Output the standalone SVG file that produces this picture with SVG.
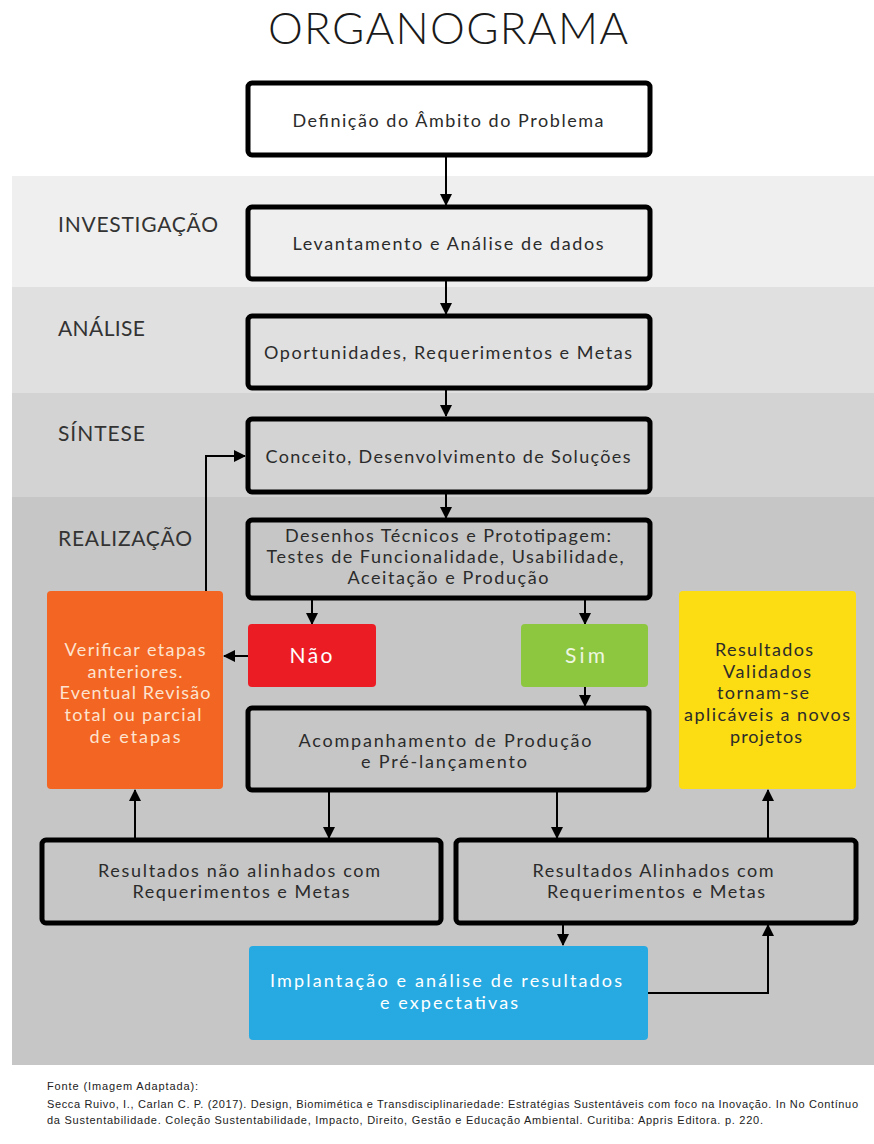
<svg xmlns="http://www.w3.org/2000/svg" width="874" height="1144" viewBox="0 0 874 1144">
<defs>
<style>
text{font-family:"Lato","Liberation Sans",sans-serif;fill:#2b2b2b}
.box{fill:none;stroke:#000;stroke-width:5}
.t{font-size:18px;text-anchor:middle}
.band{font-size:21px;letter-spacing:1px;fill:#333}
.w{fill:#fff}
.c{stroke:#000;stroke-width:2;fill:none}
.foot{font-family:"Liberation Sans",sans-serif;font-size:11px;fill:#222}
</style>
<marker id="ah" markerUnits="userSpaceOnUse" markerWidth="12" markerHeight="12" viewBox="0 0 12 12" refX="11" refY="6" orient="auto">
<path d="M0,0 L12,6 L0,12 z" fill="#000"/>
</marker>
</defs>
<rect width="874" height="1144" fill="#fff"/>
<g id="bands">
<rect x="12" y="176" width="862" height="111" fill="#efefef"/>
<rect x="12" y="287" width="862" height="106" fill="#e0e0e0"/>
<rect x="12" y="393" width="862" height="104" fill="#d3d3d3"/>
<rect x="12" y="497" width="862" height="568" fill="#c6c6c6"/>
<text class="band" x="58" y="232" textLength="161">INVESTIGAÇÃO</text>
<text class="band" x="58" y="336" textLength="88">ANÁLISE</text>
<text class="band" x="58" y="441" textLength="88">SÍNTESE</text>
<text class="band" x="58" y="546" textLength="135">REALIZAÇÃO</text>
</g>
<text x="448" y="44" font-size="44" font-weight="300" text-anchor="middle" textLength="360" style="fill:#1a1a1a">ORGANOGRAMA</text>
<g id="connectors">
<line class="c" x1="446" y1="155" x2="446" y2="205" marker-end="url(#ah)"/>
<line class="c" x1="446" y1="279" x2="446" y2="314" marker-end="url(#ah)"/>
<line class="c" x1="446" y1="388" x2="446" y2="416" marker-end="url(#ah)"/>
<line class="c" x1="446" y1="492" x2="446" y2="518" marker-end="url(#ah)"/>
<line class="c" x1="312" y1="598" x2="312" y2="624" marker-end="url(#ah)"/>
<line class="c" x1="585" y1="598" x2="585" y2="624" marker-end="url(#ah)"/>
<line class="c" x1="248" y1="656" x2="224" y2="656" marker-end="url(#ah)"/>
<polyline class="c" points="206,591 206,456 245,456" marker-end="url(#ah)"/>
<line class="c" x1="585" y1="687" x2="585" y2="706" marker-end="url(#ah)"/>
<line class="c" x1="329" y1="790" x2="329" y2="838" marker-end="url(#ah)"/>
<line class="c" x1="557" y1="790" x2="557" y2="838" marker-end="url(#ah)"/>
<line class="c" x1="135" y1="838" x2="135" y2="790" marker-end="url(#ah)"/>
<line class="c" x1="768" y1="838" x2="768" y2="790" marker-end="url(#ah)"/>
<line class="c" x1="563" y1="925" x2="563" y2="945" marker-end="url(#ah)"/>
<polyline class="c" points="648,993 768,993 768,925" marker-end="url(#ah)"/>
</g>
<g id="n1">
<rect class="box" x="248" y="83" width="402" height="72" rx="4" style="fill:#fff"/>
<text class="t" x="448" y="127" textLength="311">Definição do Âmbito do Problema</text>
</g>
<g id="n2">
<rect class="box" x="248" y="207" width="402" height="72" rx="4"/>
<text class="t" x="448" y="250" textLength="311">Levantamento e Análise de dados</text>
</g>
<g id="n3">
<rect class="box" x="248" y="316" width="402" height="72" rx="4"/>
<text class="t" x="448" y="359" textLength="368">Oportunidades, Requerimentos e Metas</text>
</g>
<g id="n4">
<rect class="box" x="248" y="419" width="402" height="73" rx="4"/>
<text class="t" x="448" y="463" textLength="365">Conceito, Desenvolvimento de Soluções</text>
</g>
<g id="n5">
<rect class="box" x="248" y="520" width="402" height="78" rx="4"/>
<text class="t" x="448" y="542" textLength="326">Desenhos Técnicos e Prototipagem:</text>
<text class="t" x="445" y="563" textLength="357">Testes de Funcionalidade, Usabilidade,</text>
<text class="t" x="448" y="584" textLength="201">Aceitação e Produção</text>
</g>
<g id="nao">
<rect x="248" y="624" width="128" height="63" rx="4" fill="#ec1c24"/>
<text class="w" x="311" y="663" font-size="21" text-anchor="middle" textLength="43">Não</text>
</g>
<g id="sim">
<rect x="521" y="624" width="127" height="63" rx="4" fill="#8dc63f"/>
<text x="585" y="663" font-size="21" text-anchor="middle" textLength="40" style="fill:#eef7e0">Sim</text>
</g>
<g id="verificar">
<rect x="47" y="591" width="176" height="198" rx="4" fill="#f26522"/>
<text class="t" x="135" y="656" textLength="141" style="fill:#fde3d0">Verificar etapas</text>
<text class="t" x="135" y="678" textLength="95" style="fill:#fde3d0">anteriores.</text>
<text class="t" x="135" y="699" textLength="151" style="fill:#fde3d0">Eventual Revisão</text>
<text class="t" x="133" y="721" textLength="137" style="fill:#fde3d0">total ou parcial</text>
<text class="t" x="135" y="743" textLength="91" style="fill:#fde3d0">de etapas</text>
</g>
<g id="validados">
<rect x="679" y="591" width="177" height="198" rx="4" fill="#fcdc12"/>
<text class="t" x="764" y="656" textLength="98">Resultados</text>
<text class="t" x="767" y="678" textLength="88">Validados</text>
<text class="t" x="763" y="699" textLength="92">tornam-se</text>
<text class="t" x="767" y="721" textLength="166">aplicáveis a novos</text>
<text class="t" x="766" y="743" textLength="72">projetos</text>
</g>
<g id="acompanhamento">
<rect class="box" x="248" y="708" width="401" height="82" rx="4"/>
<text class="t" x="445" y="747" textLength="293">Acompanhamento de Produção</text>
<text class="t" x="444" y="768" textLength="166">e Pré-lançamento</text>
</g>
<g id="naoalinhados">
<rect class="box" x="42" y="840" width="399" height="83" rx="4"/>
<text class="t" x="239" y="877" textLength="282">Resultados não alinhados com</text>
<text class="t" x="241" y="898" textLength="217">Requerimentos e Metas</text>
</g>
<g id="alinhados">
<rect class="box" x="456" y="840" width="400" height="83" rx="4"/>
<text class="t" x="653" y="877" textLength="241">Resultados Alinhados com</text>
<text class="t" x="656" y="898" textLength="218">Requerimentos e Metas</text>
</g>
<g id="implantacao">
<rect x="249" y="946" width="399" height="94" rx="4" fill="#27aae1"/>
<text class="t w" x="446" y="987" textLength="352">Implantação e análise de resultados</text>
<text class="t w" x="449" y="1009" textLength="138">e expectativas</text>
</g>
<g id="fonte">
<text class="foot" x="47" y="1090" textLength="151">Fonte (Imagem Adaptada):</text>
<text class="foot" x="47" y="1108" textLength="811">Secca Ruivo, I., Carlan C. P. (2017). Design, Biomimética e Transdisciplinariedade: Estratégias Sustentáveis com foco na Inovação. In No Contínuo</text>
<text class="foot" x="47" y="1124" textLength="716">da Sustentabilidade. Coleção Sustentabilidade, Impacto, Direito, Gestão e Educação Ambiental. Curitiba: Appris Editora. p. 220.</text>
</g>
</svg>
